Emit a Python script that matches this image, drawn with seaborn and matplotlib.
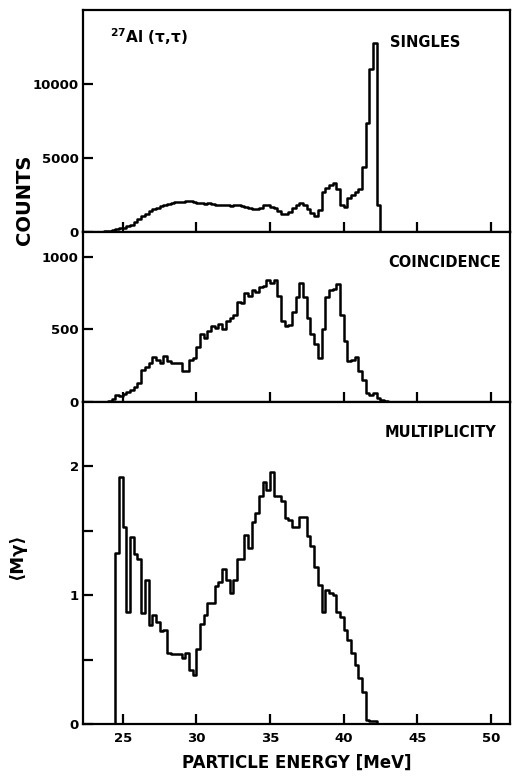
import numpy as np
import pandas as pd
import matplotlib
matplotlib.use("Agg")
import matplotlib.pyplot as plt
import seaborn as sns

# ---- data (0.25 MeV bins starting at 23.0 MeV) ----
bin_start = 23.0
bin_width = 0.25

singles = [
    0, 0, 20, 60,
    100, 150, 200, 250,
    300, 380, 500, 650,
    850, 1050, 1250, 1450,
    1550, 1650, 1750, 1850,
    1900, 1950, 2000, 2050,
    2050, 2100, 2100, 2000,
    1950, 1950, 1900, 1950,
    1900, 1850, 1800, 1850,
    1800, 1750, 1800, 1800,
    1750, 1700, 1600, 1550,
    1550, 1650, 1850, 1850,
    1700, 1600, 1400, 1250,
    1200, 1350, 1600, 1850,
    1950, 1800, 1550, 1300,
    1050, 1500, 2700, 2950,
    3150, 3300, 2900, 1800,
    1700, 2300, 2500, 2700,
    2900, 4400, 7400, 11000,
    12800, 1800, 0, 0,
    0, 0, 0, 0,
]

coincidence = [
    0, 0, 0, 0,
    5, 20, 45, 40,
    55, 70, 85, 100,
    130, 220, 240, 265,
    310, 290, 270, 315,
    280, 270, 265, 270,
    210, 215, 290, 300,
    380, 470, 440, 490,
    520, 510, 540, 500,
    560, 575, 600, 690,
    680, 750, 730, 770,
    760, 790, 800, 840,
    820, 840, 730, 560,
    520, 530, 620, 720,
    820, 720, 580, 470,
    400, 300, 500, 720,
    770, 780, 810, 600,
    420, 280, 290, 310,
    210, 150, 60, 50,
    60, 30, 15, 5,
    0, 0, 0, 0,
]

multiplicity = [
    0, 0, 0, 0,
    0, 0, 1.33, 1.92,
    1.53, 0.87, 1.45, 1.32,
    1.28, 0.86, 1.12, 0.77,
    0.85, 0.79, 0.72, 0.73,
    0.55, 0.54, 0.54, 0.54,
    0.51, 0.55, 0.42, 0.38,
    0.58, 0.78, 0.85, 0.94,
    0.94, 1.07, 1.10, 1.20,
    1.12, 1.02, 1.12, 1.28,
    1.28, 1.47, 1.37, 1.57,
    1.64, 1.77, 1.88, 1.82,
    1.96, 1.77, 1.77, 1.73,
    1.60, 1.58, 1.53, 1.53,
    1.61, 1.61, 1.46, 1.38,
    1.22, 1.08, 0.87, 1.04,
    1.02, 1.00, 0.87, 0.83,
    0.73, 0.65, 0.55, 0.46,
    0.36, 0.25, 0.03, 0.02,
    0.02, 0, 0, 0,
    0, 0, 0, 0,
]

x_ticks = [25, 30, 35, 40, 45, 50]
counts_ticks = [0, 5000, 10000]
coinc_ticks = [0, 500, 1000]
mult_ticks = [0, 0.5, 1, 1.5, 2]
mult_tick_labels = ["0", "", "1", "", "2"]

panel_names = ["SINGLES", "COINCIDENCE", "MULTIPLICITY"]

# ---- build tables ----
n = len(singles)
bin_end = bin_start + bin_width * n
centers = bin_start + bin_width * (np.arange(n) + 0.5)
df = pd.DataFrame({"energy": centers, "singles": singles,
                   "coincidence": coincidence, "multiplicity": multiplicity})

sns.set_style("ticks")
plt.rcParams["font.family"] = ["DejaVu Sans"]
plt.rcParams["text.color"] = "black"
plt.rcParams["axes.labelcolor"] = "black"
plt.rcParams["xtick.color"] = "black"
plt.rcParams["ytick.color"] = "black"

fig = plt.figure(figsize=(5.14, 7.76), dpi=100)
L, W = 83 / 514, 427 / 514
ax1 = fig.add_axes([L, 0.701, W, 0.286])
ax2 = fig.add_axes([L, 0.482, W, 0.219])
ax3 = fig.add_axes([L, 0.067, W, 0.415])

specs = [
    (ax1, "singles", (0, 15000), counts_ticks, [str(t) for t in counts_ticks]),
    (ax2, "coincidence", (0, 1170), coinc_ticks, [str(t) for t in coinc_ticks]),
    (ax3, "multiplicity", (0, 2.5), mult_ticks, mult_tick_labels),
]

for ax, col, ylim, yt, ytl in specs:
    sns.histplot(data=df, x="energy", weights=col, binwidth=bin_width,
                 binrange=(bin_start, bin_end), element="step",
                 fill=False, color="black", linewidth=1.8, ax=ax)
    ax.set_xlim(22.3, 51.3)
    ax.set_ylim(*ylim)
    ax.set_xticks(x_ticks)
    ax.set_yticks(yt)
    ax.set_yticklabels(ytl)
    ax.set_xlabel("")
    ax.set_ylabel("")
    ax.tick_params(axis="both", direction="in", length=7, width=1.6,
                   colors="black", labelsize=9.5, pad=3)
    for lab in ax.get_yticklabels() + ax.get_xticklabels():
        lab.set_fontweight("bold")
    for sp in ax.spines.values():
        sp.set_visible(True)
        sp.set_linewidth(1.6)
        sp.set_color("black")

ax1.tick_params(axis="x", labelbottom=False)
ax2.tick_params(axis="x", labelbottom=False)
ax3.tick_params(axis="x", pad=6)

ax1.text(0.719, 0.856, panel_names[0], transform=ax1.transAxes,
         fontsize=10.5, fontweight="bold", va="center", ha="left", color="black")
ax1.text(0.063, 0.88, r"$^{\mathbf{27}}$Al (τ,τ)", transform=ax1.transAxes,
         fontsize=11, fontweight="bold", va="center", ha="left", color="black")
ax2.text(0.714, 0.818, panel_names[1], transform=ax2.transAxes,
         fontsize=10.5, fontweight="bold", va="center", ha="left", color="black")
ax3.text(0.707, 0.904, panel_names[2], transform=ax3.transAxes,
         fontsize=10.5, fontweight="bold", va="center", ha="left", color="black")

ax3.set_xlabel("PARTICLE ENERGY [MeV]", fontsize=12, fontweight="bold",
               labelpad=6, color="black")

fig.text(25 / 514, 1 - 200 / 776, "COUNTS", rotation=90, fontsize=14,
         fontweight="bold", ha="center", va="center", color="black")
fig.text(17 / 514, 1 - 557 / 776, "⟨Mγ⟩", rotation=90, fontsize=13,
         fontweight="bold", ha="center", va="center", color="black")

fig.savefig("out.png", dpi=100, facecolor="white")
